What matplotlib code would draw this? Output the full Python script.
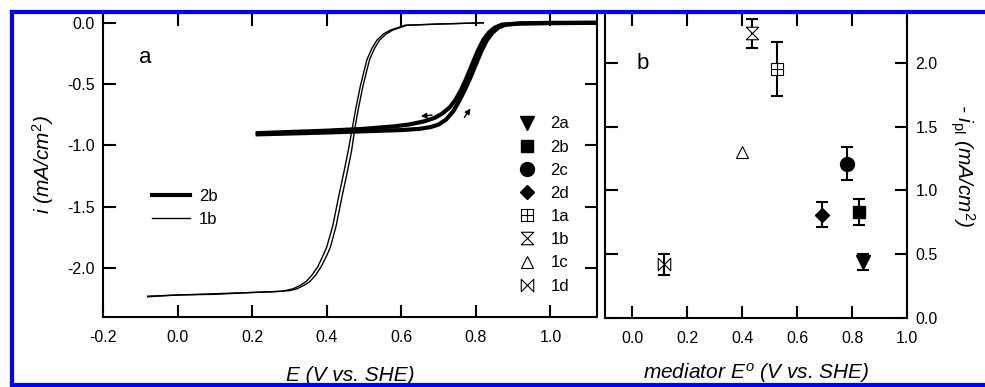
import matplotlib
matplotlib.use("Agg")
import matplotlib.pyplot as plt
from matplotlib.path import Path
from matplotlib.lines import Line2D


plt.rcParams["font.family"]        = "Liberation Sans"
plt.rcParams["mathtext.fontset"]   = "custom"
plt.rcParams["mathtext.rm"]        = "Liberation Sans"
plt.rcParams["mathtext.it"]        = "Liberation Sans:italic"
plt.rcParams["axes.unicode_minus"] = False


# --- panel a : voltammogrammes ---
E_1b_fwd = [-0.08, 0.1, 0.25, 0.30, 0.32, 0.34, 0.355, 0.37, 0.385, 0.40, 0.41,
            0.425, 0.443, 0.455, 0.467, 0.475, 0.485, 0.497, 0.505, 0.515, 0.528,
            0.542, 0.56, 0.577, 0.615, 0.70, 0.82]
i_1b_fwd = [-2.23, -2.21, -2.195, -2.185, -2.17, -2.14, -2.11, -2.06, -1.99, -1.90, -1.83,
            -1.66, -1.39, -1.22, -1.04, -0.87, -0.70, -0.52, -0.42, -0.30, -0.21,
            -0.14, -0.09, -0.06, -0.02, -0.01, 0.0]

E_1b_rev = [0.82, 0.70, 0.61, 0.57, 0.553, 0.535, 0.521, 0.508, 0.498, 0.49, 0.478,
            0.468, 0.458, 0.446, 0.434, 0.416, 0.40, 0.39, 0.376, 0.36, 0.345,
            0.33, 0.31, 0.28, 0.2, 0.1, 0.0, -0.08]
i_1b_rev = [0.0, -0.01, -0.02, -0.06, -0.09, -0.14, -0.21, -0.30, -0.42, -0.52, -0.70,
            -0.87, -1.04, -1.22, -1.39, -1.66, -1.83, -1.90, -1.99, -2.06, -2.11,
            -2.14, -2.17, -2.19, -2.20, -2.215, -2.22, -2.235]

E_2b_fwd = [0.215, 0.40, 0.50, 0.60, 0.65, 0.68, 0.70, 0.72, 0.74, 0.755, 0.77,
            0.785, 0.80, 0.815, 0.83, 0.845, 0.86, 0.88, 0.92, 1.0, 1.125]
i_2b_fwd = [-0.91, -0.895, -0.885, -0.875, -0.865, -0.85, -0.83, -0.79, -0.72, -0.64, -0.55,
            -0.45, -0.34, -0.23, -0.14, -0.08, -0.04, -0.015, -0.005, 0.0, 0.0]

E_2b_rev = [1.125, 0.92, 0.87, 0.85, 0.835, 0.82, 0.805, 0.79, 0.775, 0.76, 0.745,
            0.73, 0.71, 0.69, 0.66, 0.62, 0.58, 0.50, 0.40, 0.215]
i_2b_rev = [0.0, -0.005, -0.015, -0.04, -0.08, -0.14, -0.23, -0.34, -0.45, -0.55, -0.63,
            -0.69, -0.74, -0.775, -0.805, -0.83, -0.845, -0.865, -0.88, -0.90]

# --- panel b : courant plateau vs potentiel du médiateur ---
mediators   = ["2a", "2b", "2c", "2d", "1a", "1b", "1c", "1d"]
mediator_E0 = [0.84, 0.826, 0.78, 0.69, 0.525, 0.435, 0.40, 0.115]
i_pl        = [0.44, 0.83, 1.21, 0.81, 1.95, 2.23, 1.30, 0.42]
i_pl_err    = [0.065, 0.10, 0.13, 0.10, 0.21, 0.115, 0.0, 0.085]


# Marqueurs personnalisés
hourglass = Path([(-1, 1), (1, 1), (-1, -1), (1, -1), (-1, 1)])
bowtie    = Path([(-1, 1), (-1, -1), (1, 1), (1, -1), (-1, 1)])
boxplus   = Path(
  [(-1, -1), (1, -1), (1, 1), (-1, 1), (-1, -1), (0, -1), (0, 1), (-1, 0), (1, 0)],
  [Path.MOVETO, Path.LINETO, Path.LINETO, Path.LINETO, Path.CLOSEPOLY,
   Path.MOVETO, Path.LINETO, Path.MOVETO, Path.LINETO])

marker_styles = {
  "2a": dict(marker="v", markersize=10, mfc="black", mec="black"),
  "2b": dict(marker="s", markersize=9,  mfc="black", mec="black"),
  "2c": dict(marker="o", markersize=10, mfc="black", mec="black"),
  "2d": dict(marker="D", markersize=7,  mfc="black", mec="black"),
  "1a": dict(marker=boxplus,   markersize=9,  mfc="white", mec="black", mew=0.8),
  "1b": dict(marker=hourglass, markersize=9,  mfc="white", mec="black", mew=0.8),
  "1c": dict(marker="^",       markersize=8,  mfc="white", mec="black", mew=0.8),
  "1d": dict(marker=bowtie,    markersize=9,  mfc="white", mec="black", mew=0.8),
}


def style_axis(ax):
  for side in ax.spines:
    ax.spines[side].set_linewidth(1.5)
  ax.tick_params(which="both", direction="in", length=9, width=1.5,
                 top=True, right=True, labelsize=11.5, pad=9.5)


fig = plt.figure(figsize=(9.85, 3.87), dpi=100)

ax_a = fig.add_axes([103 / 985, 70 / 387, 494 / 985, 304 / 387])
ax_b = fig.add_axes([605 / 985, 69 / 387, 302 / 985, 305 / 387])

# Panel a
ax_a.plot(E_1b_fwd, i_1b_fwd, color="black", lw=1.0)
ax_a.plot(E_1b_rev, i_1b_rev, color="black", lw=1.0)
ax_a.plot(E_2b_fwd, i_2b_fwd, color="black", lw=3.0, solid_joinstyle="round")
line_2b, = ax_a.plot(E_2b_rev, i_2b_rev, color="black", lw=3.0, solid_joinstyle="round")
line_1b, = ax_a.plot([], [], color="black", lw=1.0)

ax_a.annotate("", xy=(0.645, -0.765), xytext=(0.69, -0.75),
              arrowprops=dict(arrowstyle="-|>", lw=1.0, color="black", mutation_scale=8))
ax_a.annotate("", xy=(0.79, -0.68), xytext=(0.765, -0.79),
              arrowprops=dict(arrowstyle="-|>", lw=1.0, color="black", mutation_scale=8))

ax_a.set_xlim(-0.2, 1.125)
ax_a.set_ylim(-2.4, 0.08)
ax_a.set_xticks([-0.2, 0.0, 0.2, 0.4, 0.6, 0.8, 1.0])
ax_a.set_yticks([-2.0, -1.5, -1.0, -0.5, 0.0])
ax_a.set_xticklabels(["-0.2", "0.0", "0.2", "0.4", "0.6", "0.8", "1.0"])
ax_a.set_yticklabels(["-2.0", "-1.5", "-1.0", "-0.5", "0.0"])
style_axis(ax_a)
ax_a.tick_params(axis="y", pad=6)
ax_a.set_xlabel("E (V vs. SHE)", fontsize=15, style="italic", labelpad=15)
ax_a.set_ylabel("i (mA/cm$^2$)", fontsize=15, style="italic", labelpad=8)
ax_a.text(0.085, 0.855, "a", transform=ax_a.transAxes, fontsize=16,
          ha="center", va="center")

leg_lines = ax_a.legend([line_2b, line_1b], ["2b", "1b"], loc="upper left",
                        bbox_to_anchor=(0.069, 0.47), frameon=False, fontsize=12,
                        handlelength=2.3, handletextpad=0.5, labelspacing=0.46)
ax_a.add_artist(leg_lines)

# Panel b
handles = []
for k, name in enumerate(mediators):
  st = marker_styles[name]
  if i_pl_err[k] > 0:
    ax_b.errorbar(mediator_E0[k], i_pl[k], yerr=i_pl_err[k], fmt="none",
                  ecolor="black", elinewidth=1.5, capsize=4, capthick=1.5)
  h, = ax_b.plot(mediator_E0[k], i_pl[k], linestyle="none", **st)
  handles.append(h)

ax_b.set_xlim(-0.1, 1.0)
ax_b.set_ylim(0.0, 2.39)
ax_b.set_xticks([0.0, 0.2, 0.4, 0.6, 0.8, 1.0])
ax_b.set_yticks([0.0, 0.5, 1.0, 1.5, 2.0])
ax_b.set_yticklabels(["0.0", "0.5", "1.0", "1.5", "2.0"])
style_axis(ax_b)
ax_b.tick_params(axis="y", pad=6)
ax_b.tick_params(labelleft=False, labelright=True)
ax_b.set_xlabel("mediator $E^{o}$ (V vs. SHE)", fontsize=15, style="italic", labelpad=11)
ax_b.yaxis.set_label_position("right")
ax_b.set_ylabel("- $i_{\\rm pl}$ (mA/cm$^2$)", fontsize=15, style="italic",
                rotation=270, labelpad=28)
ax_b.text(0.126, 0.836, "b", transform=ax_b.transAxes, fontsize=16,
          ha="center", va="center")

ax_a.legend(handles, mediators, loc="upper left", bbox_to_anchor=(0.825, 0.687),
            frameon=False, fontsize=12, handlelength=1.0, handletextpad=0.9,
            labelspacing=0.49, borderpad=0.0)

# Cadre bleu (bords gauche, haut et bas)
W, H = 985, 387
border = dict(color="#0000ff", linewidth=3.0, transform=fig.transFigure,
              clip_on=False, zorder=10, solid_capstyle="projecting")
fig.add_artist(Line2D([12 / W, 12 / W], [1 - 11.5 / H, 1 - 385 / H], **border))
fig.add_artist(Line2D([12 / W, 1.0], [1 - 11.5 / H, 1 - 11.5 / H], **border))
fig.add_artist(Line2D([12 / W, 1.0], [1 - 385 / H, 1 - 385 / H], **border))

fig.savefig("out.png", dpi=100)
